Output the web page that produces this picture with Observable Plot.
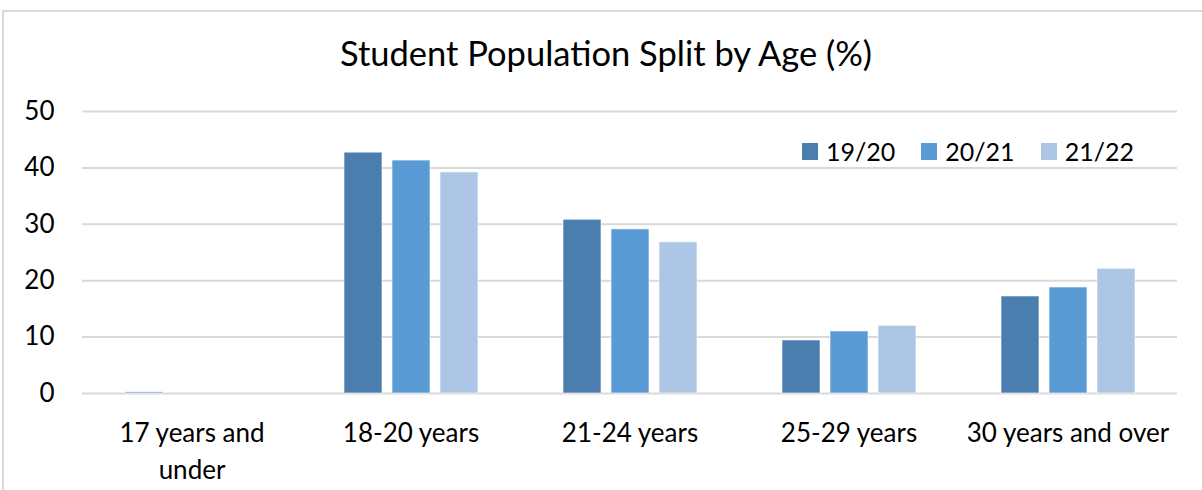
<!DOCTYPE html>
<html>
<head>
<meta charset="utf-8">
<script src="https://cdn.jsdelivr.net/npm/d3@7"></script>
<script src="https://cdn.jsdelivr.net/npm/@observablehq/plot@0.6"></script>
<style>
  html, body { margin: 0; padding: 0; background: #fff; }
  #wrap { position: relative; width: 1202px; height: 490px; overflow: hidden; font-family: Lato, "Open Sans", sans-serif; color: #000; }
  #frame { position: absolute; left: 2px; top: 10px; width: 1300px; height: 600px; border: 2px solid #d9d9d9; box-sizing: border-box; }
  #title { position: absolute; left: 0; width: 1212px; top: 31px; text-align: center; font-size: 34.5px; line-height: 44px; }
  #chart { position: absolute; left: 0; top: 90px; }
  #legend { position: absolute; left: 802px; top: 136px; display: flex; align-items: center; font-size: 25px; line-height: 30px; }
  .item { display: flex; align-items: center; margin-right: 26px; }
  .sw { width: 16px; height: 17px; margin-right: 8px; }
</style>
</head>
<body>
<div id="wrap">
  <div id="frame"></div>
  <div id="title"></div>
  <div id="chart"></div>
  <div id="legend"></div>
</div>
<script>
const title = "Student Population Split by Age (%)";
const categories = ["17 years and under", "18-20 years", "21-24 years", "25-29 years", "30 years and over"];
const categoryLabels = ["17 years and\nunder", "18-20 years", "21-24 years", "25-29 years", "30 years and over"];
const series = ["19/20", "20/21", "21/22"];
const colors = ["#4a7eaf", "#5b9bd5", "#adc6e5"];
const values1920 = [0.2, 42.7, 30.8, 9.4, 17.2];
const values2021 = [0, 41.3, 29.1, 11.0, 18.8];
const values2122 = [0, 39.2, 26.8, 12.0, 22.1];
const yTicks = [0, 10, 20, 30, 40, 50];

const seriesValues = [values1920, values2021, values2122];
const data = [];
categories.forEach((c, i) => {
  series.forEach((s, j) => data.push({category: c, series: s, value: seriesValues[j][i]}));
});
const labelOf = new Map(categories.map((c, i) => [c, categoryLabels[i]]));

document.getElementById("title").textContent = title;

const chart = Plot.plot({
  width: 1202,
  height: 400,
  marginLeft: 80,
  marginRight: 24,
  marginTop: 21,
  marginBottom: 97,
  style: { fontFamily: "Lato, 'Open Sans', sans-serif", fontSize: "26px", color: "#000", background: "transparent" },
  fx: { domain: categories, padding: 0 },
  x: { domain: series, paddingInner: 0.2165, paddingOuter: 0.871, axis: null },
  y: { domain: [0, 50] },
  color: { domain: series, range: colors },
  marks: [
    Plot.ruleY(yTicks, { stroke: "#d9d9d9", strokeWidth: 2 }),
    Plot.barY(data, { fx: "category", x: "series", y: "value", fill: "series", stroke: "#ffffff", strokeOpacity: 0.6, strokeWidth: 1 }),
    Plot.axisY({ ticks: yTicks, tickSize: 0, tickPadding: 28, label: null, fontSize: 26 }),
    Plot.axisFx({ anchor: "bottom", tickSize: 0, tickPadding: 22, label: null, tickFormat: d => labelOf.get(d), lineHeight: 1.42, fontSize: 26 })
  ]
});
document.getElementById("chart").appendChild(chart);

const legend = document.getElementById("legend");
series.forEach((s, j) => {
  const item = document.createElement("div");
  item.className = "item";
  const sw = document.createElement("div");
  sw.className = "sw";
  sw.style.background = colors[j];
  const t = document.createElement("span");
  t.textContent = s;
  item.appendChild(sw);
  item.appendChild(t);
  legend.appendChild(item);
});
</script>
</body>
</html>
